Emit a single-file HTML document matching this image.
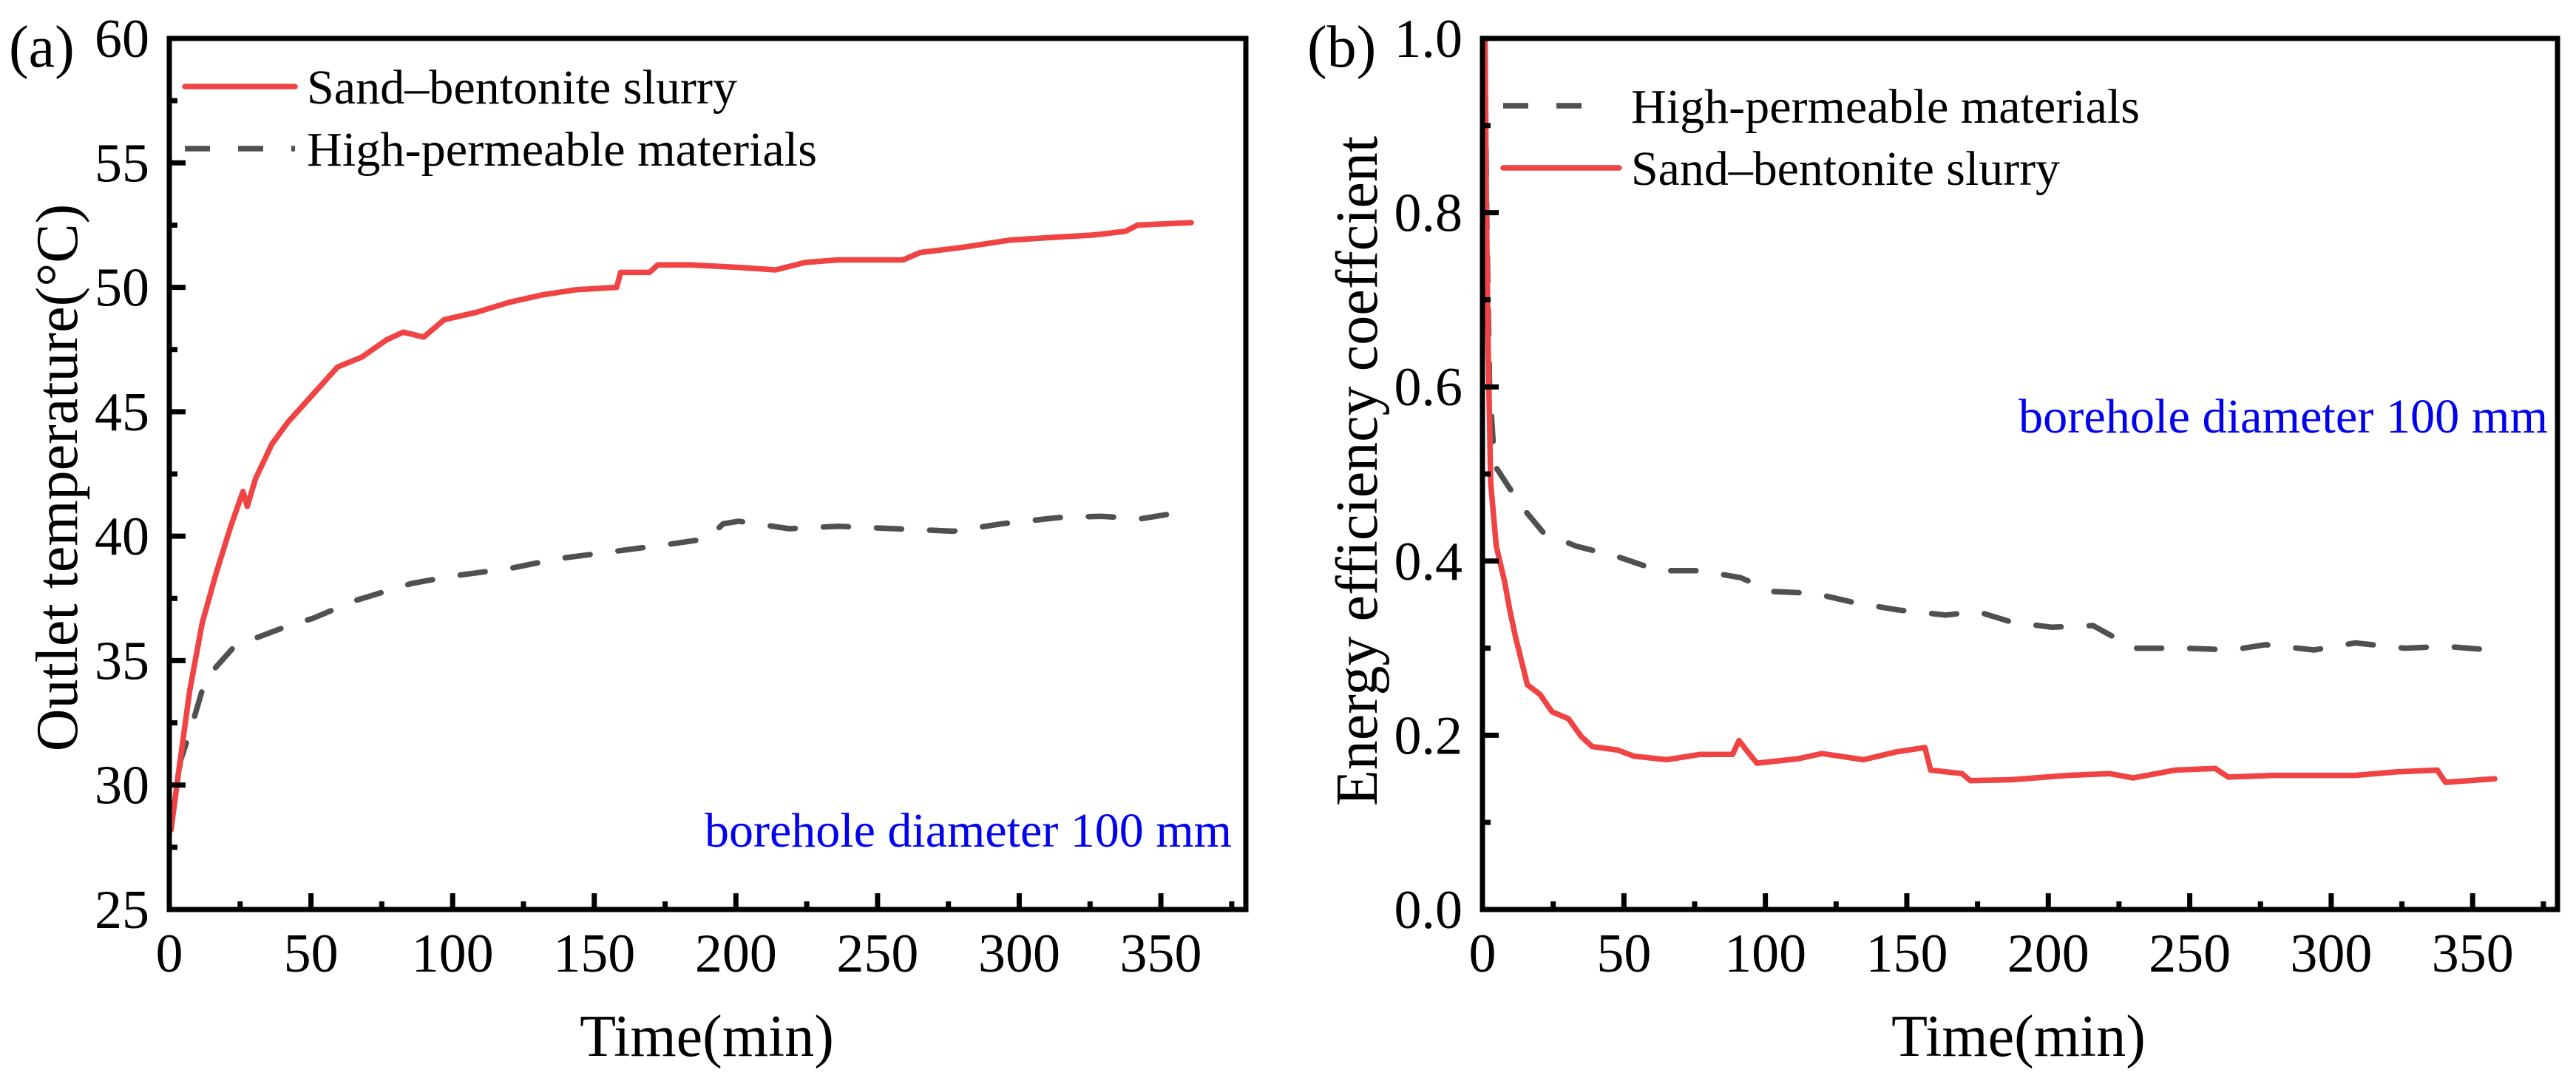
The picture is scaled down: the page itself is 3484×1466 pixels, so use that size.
<!DOCTYPE html>
<html><head><meta charset="utf-8"><style>
html,body{margin:0;padding:0;background:#fff;}
svg{display:block;font-family:"Liberation Serif",serif;}
</style></head><body>
<svg id="fig" width="3484" height="1466" viewBox="0 0 3484 1466" xmlns="http://www.w3.org/2000/svg">
<rect width="3484" height="1466" fill="#fff"/>
<g id="pa"></g>
<g id="pb"></g>
</svg>
<script>
// Panel (a) data
const aRedT = [0.6,2.9,7.2,11.6,16.5,21.7,26,27.5,30.4,36.2,42,50.7,59.4,68,76.8,82.6,89.8,97,108.6,120,131.8,143.4,157.9,159.3,169.5,172.4,184,201,214,224.5,236,259,265,279.6,297,311,326,337.5,341.8,360.7];
const aRedV = [28.2,30.2,33.8,36.5,38.5,40.4,41.8,41.2,42.3,43.7,44.6,45.7,46.8,47.2,47.9,48.2,48.0,48.7,49.0,49.4,49.7,49.9,50.0,50.6,50.6,50.9,50.9,50.8,50.7,51.0,51.1,51.1,51.4,51.6,51.9,52.0,52.1,52.25,52.5,52.6];
const aGreyT = [1,4,7.2,11.6,15.4,23.2,30.4,42,50.7,65.2,76.8,85.5,100,120,137.6,157.9,178,190,195.5,201,218.7,236,256,276.7,294,314,328.8,343,356.3];
const aGreyV = [28.6,31.0,32.1,33.8,34.6,35.6,35.9,36.4,36.7,37.4,37.8,38.1,38.4,38.7,39.1,39.4,39.7,39.9,40.5,40.6,40.3,40.4,40.3,40.2,40.5,40.75,40.8,40.7,40.95];
const aYTicks = [25,30,35,40,45,50,55,60];
const xTicks = [0,50,100,150,200,250,300,350];
// Panel (b) data
const bRedT = [0.9,1.4,2,2.9,4.9,7.8,9.6,11.6,15.9,20.3,24.6,30.4,34.8,38.8,47.8,53.6,65.2,76.8,88.4,90.7,94,97,111.5,120,134.7,146.3,156.4,158.4,169.5,172.4,187,207,221.6,230,244.8,259,263.6,279.6,294,308.5,323,337.5,340.4,357.8];
const bRedV = [1.0,0.80,0.646,0.49,0.417,0.377,0.345,0.314,0.258,0.247,0.227,0.219,0.199,0.187,0.183,0.176,0.172,0.178,0.178,0.194,0.18,0.168,0.173,0.179,0.172,0.181,0.186,0.16,0.156,0.148,0.149,0.154,0.156,0.151,0.16,0.162,0.152,0.154,0.154,0.154,0.158,0.16,0.146,0.15];
const bGreyT = [0.9,1.5,2.5,4.3,8.7,14.5,21.7,33.3,47.8,62.3,76.8,91.2,102.8,117.3,131.8,146.7,163.7,175,187,201.3,215.8,230.3,247.7,265,276.7,294,308.5,326,340.4,356.3];
const bGreyV = [0.994,0.8,0.6,0.51,0.488,0.46,0.432,0.417,0.405,0.389,0.389,0.381,0.365,0.363,0.352,0.344,0.338,0.342,0.33,0.324,0.326,0.3,0.30,0.298,0.304,0.298,0.306,0.30,0.302,0.298];
const bYTicks = [0.0,0.2,0.4,0.6,0.8,1.0];

const NS = "http://www.w3.org/2000/svg";
function mk(parent, tag, attrs, text){
  const e = document.createElementNS(NS, tag);
  for (const k in attrs) e.setAttribute(k, attrs[k]);
  if (text !== undefined) e.textContent = text;
  parent.appendChild(e);
  return e;
}
function panel(g, cfg){
  const L=cfg.L, R=cfg.R, T=52, B=1230;
  const sx = t => L + (t-0)/(380-0)*(R-L);
  const sy = v => B - (v-cfg.ymin)/(cfg.ymax-cfg.ymin)*(B-T);
  function series(ts, vs, color, dash, name){
    let d = "";
    ts.forEach((t,i)=>{ d += (i?"L":"M")+sx(t).toFixed(1)+","+sy(vs[i]).toFixed(1); });
    const p = mk(g,"path",{d:d,fill:"none",stroke:color,"stroke-width":7.5,"stroke-linejoin":"round","stroke-linecap":"round"});
    if (dash) p.setAttribute("stroke-dasharray", dash);
    
    
  }
  series(cfg.greyT, cfg.greyV, "#505050", "34,38", "high-permeable-line");
  series(cfg.redT, cfg.redV, "#f04444", null, "sand-bentonite-line");
  const fr = mk(g,"rect",{x:L,y:T,width:R-L,height:B-T,fill:"none",stroke:"#000","stroke-width":7});
  
  
  for (let t=0; t<=375; t+=25){
    const maj = t%50===0;
    mk(g,"line",{x1:sx(t),x2:sx(t),y1:B,y2:B-(maj?22:11),stroke:"#000","stroke-width":7});
  }
  xTicks.forEach(t=>{
    const e = mk(g,"text",{x:sx(t),y:1314,"font-size":74,"text-anchor":"middle"}, String(t));
    
    
  });
  const ys = cfg.yTicks;
  const step = ys[1]-ys[0];
  for (let i=0;i<ys.length;i++){
    mk(g,"line",{x1:L,x2:L+22,y1:sy(ys[i]),y2:sy(ys[i]),stroke:"#000","stroke-width":7});
    if (i<ys.length-1){ const m=ys[i]+step/2; mk(g,"line",{x1:L,x2:L+11,y1:sy(m),y2:sy(m),stroke:"#000","stroke-width":7}); }
    const e = mk(g,"text",{x:L-27,y:sy(ys[i])+25,"font-size":74,"text-anchor":"end"}, cfg.fmt(ys[i]));
    
    
  }
}
const ga = document.getElementById("pa"), gb = document.getElementById("pb");
panel(ga,{L:229,R:1685,ymin:25,ymax:60,yTicks:aYTicks,fmt:v=>String(v),redT:aRedT,redV:aRedV,greyT:aGreyT,greyV:aGreyV});
panel(gb,{L:2005,R:3459,ymin:0,ymax:1,yTicks:bYTicks,fmt:v=>v.toFixed(1),redT:bRedT,redV:bRedV,greyT:bGreyT,greyV:bGreyV});
</script>
<svg style="position:absolute;left:0;top:0" width="3484" height="1466" viewBox="0 0 3484 1466" xmlns="http://www.w3.org/2000/svg" font-family="Liberation Serif, serif">
<text x="12" y="90" font-size="80">(a)</text>
<text x="1768" y="90" font-size="80">(b)</text>
<g>
<line x1="250" y1="117" x2="399" y2="117" stroke="#f04444" stroke-width="7.5" stroke-linecap="round"/>
<text x="415" y="140" font-size="66" textLength="582" lengthAdjust="spacingAndGlyphs">Sand–bentonite slurry</text>
<line x1="250" y1="201" x2="399" y2="201" stroke="#505050" stroke-width="7.5" stroke-dasharray="34,38"/>
<text x="415" y="224" font-size="66" textLength="690" lengthAdjust="spacingAndGlyphs">High-permeable materials</text>
</g>
<g>
<line x1="2033" y1="143" x2="2175" y2="143" stroke="#505050" stroke-width="7.5" stroke-dasharray="34,38"/>
<text x="2206" y="166" font-size="66" textLength="688" lengthAdjust="spacingAndGlyphs">High-permeable materials</text>
<line x1="2033" y1="227" x2="2190" y2="227" stroke="#f04444" stroke-width="7.5" stroke-linecap="round"/>
<text x="2206" y="250" font-size="66" textLength="580" lengthAdjust="spacingAndGlyphs">Sand–bentonite slurry</text>
</g>
<text x="953" y="1145" font-size="66" fill="#0000ee" textLength="713" lengthAdjust="spacingAndGlyphs">borehole diameter 100 mm</text>
<text x="2730" y="585" font-size="66" fill="#0000ee" textLength="716" lengthAdjust="spacingAndGlyphs">borehole diameter 100 mm</text>
<text x="956" y="1428" font-size="80" text-anchor="middle">Time(min)</text>
<text x="2730" y="1428" font-size="80" text-anchor="middle">Time(min)</text>
<text transform="translate(104,646) rotate(-90)" font-size="80" text-anchor="middle">Outlet temperature(°C)</text>
<text transform="translate(1862,637) rotate(-90)" font-size="80" text-anchor="middle">Energy efficiency coeffcient</text>
</svg>
</body></html>
